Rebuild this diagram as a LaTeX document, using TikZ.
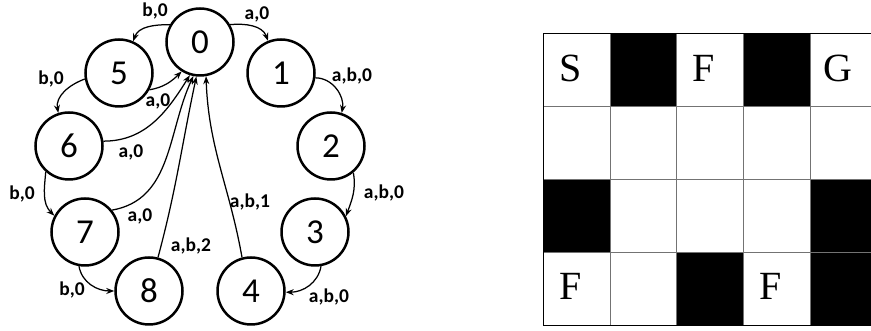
\documentclass[tikz,border=0pt]{standalone}
\usepackage{fontspec}
\setmainfont{Liberation Serif}
\newfontfamily\statefont{Carlito}
\usetikzlibrary{arrows.meta}

\begin{document}
\begin{tikzpicture}[x=1pt,y=1pt,
  state/.style={circle, draw, line width=2.5pt, minimum size=67pt, inner sep=0pt,
                font=\statefont\fontsize{35}{35}\selectfont},
  trans/.style={line width=1.25pt, -{Stealth[length=8pt,width=6pt]}},
  lab/.style={font=\statefont\bfseries\fontsize{19.5}{19.5}\selectfont, inner sep=0pt},
  gridline/.style={draw=black!55, line width=0.9pt},
  border/.style={draw=black, line width=1.3pt},
  letter/.style={font=\fontsize{40}{40}\selectfont, inner sep=0pt, anchor=base west},
]
\useasboundingbox (0,0) rectangle (871,331);

% ---------- state machine ----------
\node[state] (n0) at (200,289) {0};
\node[state] (n1) at (281,258) {1};
\node[state] (n2) at (331,185) {2};
\node[state] (n3) at (315,99)  {3};
\node[state] (n4) at (251,40)  {4};
\node[state] (n8) at (149,40)  {8};
\node[state] (n7) at (85,99)   {7};
\node[state] (n6) at (69,185)  {6};
\node[state] (n5) at (119,258) {5};

% outer ring
\draw[trans] (n0.30)   to[out=5,    in=110] (n1.112);
\draw[trans] (n1.-8)   to[out=0,    in=80]  (n2.72);
\draw[trans] (n2.-50)  to[out=-80,  in=70]  (n3.27);
\draw[trans] (n3.-80)  to[out=-100, in=0]   (n4.-2);
\draw[trans] (n0.150)  to[out=180,  in=70]  (n5.66);
\draw[trans] (n5.190)  to[out=200,  in=100] (n6.108);
\draw[trans] (n6.-132) to[out=-95,  in=135] (n7.152);
\draw[trans] (n7.-100) to[out=-80,  in=180] (n8.180);

% returns to state 0
\draw[trans] (n4.105) to[out=100, in=-88]  (n0.-80);
\draw[trans] (n8.75)  to[out=75,  in=-102] (n0.-96);
\draw[trans] (n7.39)  to[out=10,  in=-115] (n0.-101);
\draw[trans] (n6.8)   to[out=0,   in=-122] (n0.-107);
\draw[trans] (n5.-29) to[out=10,  in=-135] (n0.-122);

% transition labels
\node[lab] (l01) at (257,317) {a,0};
\node[lab] (l05) at (155,320) {b,0};
\node[lab] (l12) at (352,255) {a,b,0};
\node[lab] (l23) at (384,138) {a,b,0};
\node[lab] (l34) at (329,34)  {a,b,0};
\node[lab] (l40) at (250,129) {a,b,1};
\node[lab] (l80) at (191,85)  {a,b,2};
\node[lab] (l70) at (140,115) {a,0};
\node[lab] (l60) at (131,179) {a,0};
\node[lab] (l50) at (158,230) {a,0};
\node[lab] (l56) at (51,252)  {b,0};
\node[lab] (l67) at (22,137)  {b,0};
\node[lab] (l78) at (72,41)   {b,0};

% ---------- grid world ----------
\def\gx{543.3}\def\gw{66.7}
\def\gt{297.7}\def\gh{73}
% blocked cells
\foreach \c/\r in {1/0, 3/0, 0/2, 4/2, 2/3, 4/3}
  \fill[black] ({\gx+\c*\gw},{\gt-\r*\gh}) rectangle ({min(\gx+(\c+1)*\gw,871)},{\gt-(\r+1)*\gh});
% inner lines
\foreach \c in {1,2,3,4}
  \draw[gridline] ({\gx+\c*\gw},\gt) -- ({\gx+\c*\gw},{\gt-4*\gh});
\foreach \r in {1,2,3}
  \draw[gridline] (\gx,{\gt-\r*\gh}) -- (871,{\gt-\r*\gh});
% outer frame (right side runs off the page)
\draw[border] (871,\gt) -- (\gx,\gt) -- (\gx,{\gt-4*\gh}) -- (871,{\gt-4*\gh});

% cell letters
\node[letter] (cS)  at ({\gx+16},249) {S};
\node[letter] (cF1) at ({\gx+2*\gw+16},249) {F};
\node[letter] (cG)  at ({\gx+4*\gw+13},249) {G};
\node[letter] (cF2) at ({\gx+16},31) {F};
\node[letter] (cF3) at ({\gx+3*\gw+16},31) {F};
\end{tikzpicture}
\end{document}
